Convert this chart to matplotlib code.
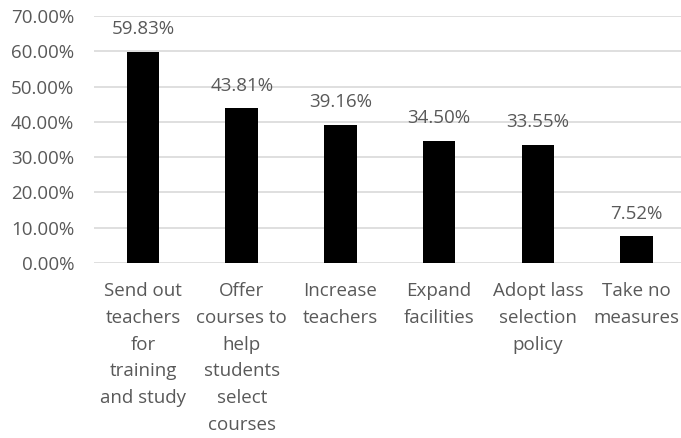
import matplotlib
matplotlib.use('Agg')

import matplotlib.pyplot as plt
from matplotlib.ticker import FuncFormatter

# Measures taken (share of respondents)
categories = [
    "Send out\nteachers\nfor\ntraining\nand study",
    "Offer\ncourses to\nhelp\nstudents\nselect\ncourses",
    "Increase\nteachers",
    "Expand\nfacilities",
    "Adopt lass\nselection\npolicy",
    "Take no\nmeasures",
]
shares = [59.83, 43.81, 39.16, 34.50, 33.55, 7.52]

plt.rcParams['font.family'] = ['Open Sans', 'DejaVu Sans']
text_grey = "#595959"
fsize = 13.5

fig = plt.figure(figsize=(6.81, 4.38), dpi=100)
ax = fig.add_axes([93.6 / 681, 1 - 263 / 438, (686 - 93.6) / 681, (263 - 16) / 438])

x = range(len(categories))
bars = ax.bar(x, shares, width=0.33, color="black", zorder=3)

for rect, v in zip(bars, shares):
    ax.annotate(f"{v:.2f}%", (rect.get_x() + rect.get_width() / 2, v),
                textcoords="offset points", xytext=(0, 10),
                ha="center", va="bottom", fontsize=fsize, color=text_grey)

ax.set_xlim(-0.5, len(categories) - 0.5)
ax.set_ylim(0, 70)
ax.set_yticks(range(0, 71, 10))
ax.yaxis.set_major_formatter(FuncFormatter(lambda v, _: f"{v:.2f}%"))
ax.set_xticks(list(x))
ax.set_xticklabels(categories, linespacing=1.62)

ax.grid(axis="y", color="#d9d9d9", linewidth=1.2, zorder=0)
for side in ["top", "right", "left", "bottom"]:
    ax.spines[side].set_visible(False)
ax.tick_params(axis="both", length=0, labelsize=fsize, labelcolor=text_grey)
ax.tick_params(axis="y", pad=14)
ax.tick_params(axis="x", pad=14)

fig.savefig("out.png", dpi=100)
